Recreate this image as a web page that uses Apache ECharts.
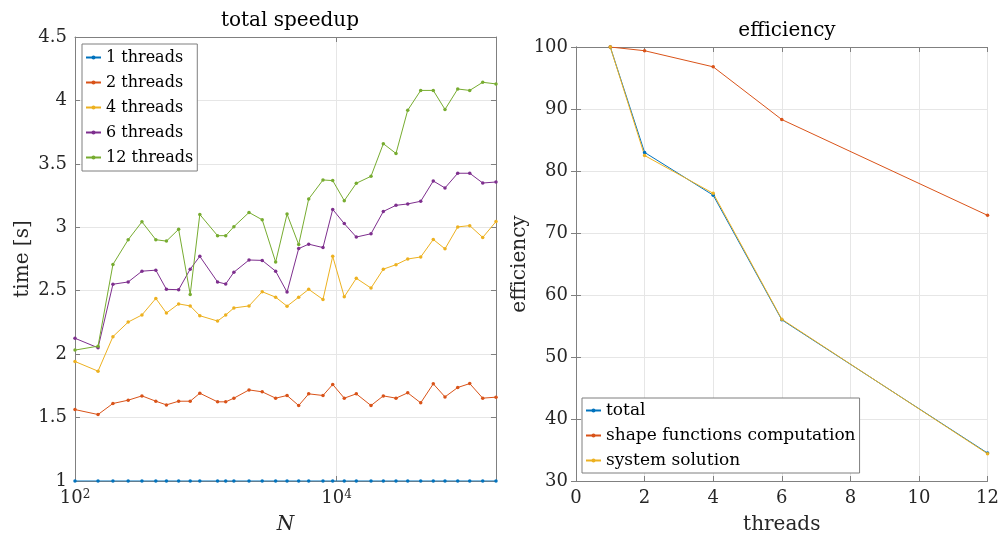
<!DOCTYPE html>
<html>
<head>
<meta charset="utf-8">
<script src="https://cdn.jsdelivr.net/npm/echarts@6.0.0/dist/echarts.min.js"></script>
<style>
  html, body { margin: 0; padding: 0; background: #fff; }
  #main { width: 1002px; height: 541px; }
</style>
</head>
<body>
<div id="main"></div>
<script>
// left panel: speedup vs N (log x)
const nValues = [100, 150, 195, 255, 325, 415, 500, 620, 760, 900, 1230, 1420, 1640, 2140, 2700, 3420,
  4180, 5130, 6120, 7870, 9340, 11450, 14150, 18330, 22770, 28460, 34990, 43970, 54860, 67420,
  84370, 104200, 131000, 165500];
const speedup1 = [1, 1, 1, 1, 1, 1, 1, 1, 1, 1, 1, 1, 1, 1, 1, 1, 1, 1, 1, 1, 1, 1, 1, 1, 1, 1, 1, 1, 1, 1, 1, 1, 1, 1];
const speedup2 = [1.563, 1.524, 1.611, 1.637, 1.671, 1.629, 1.600, 1.629, 1.629, 1.692, 1.624, 1.624, 1.653,
  1.718, 1.703, 1.653, 1.674, 1.595, 1.687, 1.674, 1.761, 1.653, 1.687, 1.595, 1.671, 1.653, 1.695,
  1.616, 1.766, 1.663, 1.737, 1.768, 1.653, 1.661];
const speedup4 = [1.942, 1.866, 2.138, 2.253, 2.309, 2.439, 2.324, 2.396, 2.380, 2.303, 2.261, 2.309, 2.364,
  2.380, 2.492, 2.449, 2.378, 2.449, 2.511, 2.431, 2.771, 2.452, 2.598, 2.521, 2.670, 2.705, 2.750,
  2.766, 2.904, 2.830, 3.003, 3.013, 2.920, 3.045];
const speedup6 = [2.125, 2.05, 2.551, 2.569, 2.654, 2.662, 2.511, 2.508, 2.670, 2.771, 2.569, 2.553, 2.646,
  2.742, 2.739, 2.654, 2.489, 2.832, 2.867, 2.840, 3.141, 3.029, 2.923, 2.949, 3.125, 3.173, 3.184,
  3.205, 3.365, 3.310, 3.426, 3.426, 3.349, 3.357];
const speedup12 = [2.032, 2.063, 2.707, 2.902, 3.043, 2.902, 2.891, 2.984, 2.471, 3.101, 2.934, 2.934, 3.005,
  3.117, 3.059, 2.726, 3.104, 2.864, 3.223, 3.373, 3.368, 3.210, 3.347, 3.402, 3.659, 3.582, 3.923,
  4.079, 4.079, 3.929, 4.090, 4.079, 4.143, 4.130];
const leftNames = ['1 threads', '2 threads', '4 threads', '6 threads', '12 threads'];

// right panel: efficiency vs threads
const threads = [1, 2, 4, 6, 12];
const effTotal = [100, 83.0, 76.1, 56.0, 34.5];
const effShape = [100, 99.4, 96.8, 88.3, 72.85];
const effSystem = [100, 82.5, 76.4, 56.1, 34.4];
const rightNames = ['total', 'shape functions computation', 'system solution'];

const colors = ['#0072BD', '#D95319', '#EDB120', '#7E2F8E', '#77AC30'];
const font = 'DejaVu Serif';
const textColor = '#262626';
const axisColor = '#808080';
const gridColor = '#e6e6e6';

const chart = echarts.init(document.getElementById('main'));

function pairs(xs, ys) {
  return xs.map((x, i) => [x, ys[i]]);
}

function lineSeries(name, xi, yi, data, color) {
  return {
    name, type: 'line', xAxisIndex: xi, yAxisIndex: yi, data,
    color, symbol: 'circle', symbolSize: 3.5, showSymbol: true,
    lineStyle: { width: 1 }, itemStyle: { color },
    emphasis: { disabled: true }
  };
}

const tickInside = { show: true, inside: true, length: 5, lineStyle: { color: axisColor } };
const lineOn = { show: true, lineStyle: { color: axisColor, width: 1 } };
const split = { show: true, lineStyle: { color: gridColor, width: 1 } };
const labelStyle = { color: textColor, fontFamily: font, fontSize: 18 };
const nameStyle = { color: textColor, fontFamily: font, fontSize: 20 };

const logLabel = {
  ...labelStyle,
  formatter: v => {
    const l = Math.log10(v);
    const e = Math.round(l);
    if (Math.abs(l - e) > 1e-6 || e % 2) return '';
    return '{b|10}{s|' + e + '}';
  },
  rich: {
    b: { fontFamily: font, fontSize: 18, color: textColor, verticalAlign: 'bottom' },
    s: { fontFamily: font, fontSize: 12, color: textColor, verticalAlign: 'top' }
  }
};

const legendBase = {
  orient: 'vertical',
  itemWidth: 15, itemHeight: 5, itemGap: 8,
  backgroundColor: '#fff', borderColor: '#7f7f7f', borderWidth: 1
};

const option = {
  animation: false,
  backgroundColor: '#fff',
  title: [
    { text: 'total speedup', left: 285, top: 6, textAlign: 'center',
      textStyle: { fontFamily: font, fontSize: 20, fontWeight: 'normal', color: '#000' } },
    { text: 'efficiency', left: 782, top: 16, textAlign: 'center',
      textStyle: { fontFamily: font, fontSize: 20, fontWeight: 'normal', color: '#000' } }
  ],
  grid: [
    { left: 75, top: 37, width: 421, height: 444 },
    { left: 576, top: 47, width: 412, height: 434 }
  ],
  legend: [
    {
      ...legendBase, data: leftNames, left: 82, top: 44,
      padding: [5, 4, 5, 3],
      textStyle: { fontFamily: font, fontSize: 16, color: '#000', lineHeight: 17 }
    },
    {
      ...legendBase, data: rightNames, left: 582, top: 398,
      padding: [4, 4, 4, 3],
      textStyle: { fontFamily: font, fontSize: 17, color: '#000', lineHeight: 17 }
    }
  ],
  xAxis: [
    {
      type: 'log', logBase: 10, gridIndex: 0, min: 100, max: 165500, interval: 2,
      name: 'N', nameLocation: 'middle', nameGap: 34,
      nameTextStyle: { ...nameStyle, fontStyle: 'italic' },
      axisLine: lineOn, axisTick: tickInside, splitLine: split, minorTick: { show: false },
      axisLabel: logLabel
    },
    {
      type: 'log', logBase: 10, gridIndex: 0, min: 100, max: 165500, interval: 2, position: 'top',
      axisLine: lineOn, axisTick: tickInside, splitLine: { show: false }, axisLabel: { show: false }
    },
    {
      type: 'value', gridIndex: 1, min: 0, max: 12, interval: 2,
      name: 'threads', nameLocation: 'middle', nameGap: 34, nameTextStyle: nameStyle,
      axisLine: lineOn, axisTick: tickInside, splitLine: split, axisLabel: labelStyle
    },
    {
      type: 'value', gridIndex: 1, min: 0, max: 12, interval: 2, position: 'top',
      axisLine: lineOn, axisTick: tickInside, splitLine: { show: false }, axisLabel: { show: false }
    }
  ],
  yAxis: [
    {
      type: 'value', gridIndex: 0, min: 1, max: 4.5, interval: 0.5,
      name: 'time [s]', nameLocation: 'middle', nameGap: 42, nameTextStyle: nameStyle,
      axisLine: lineOn, axisTick: tickInside, splitLine: split, axisLabel: labelStyle
    },
    {
      type: 'value', gridIndex: 0, min: 1, max: 4.5, interval: 0.5, position: 'right',
      axisLine: lineOn, axisTick: tickInside, splitLine: { show: false }, axisLabel: { show: false }
    },
    {
      type: 'value', gridIndex: 1, min: 30, max: 100, interval: 10,
      name: 'efficiency', nameLocation: 'middle', nameGap: 44, nameTextStyle: nameStyle,
      axisLine: lineOn, axisTick: tickInside, splitLine: split, axisLabel: labelStyle
    },
    {
      type: 'value', gridIndex: 1, min: 30, max: 100, interval: 10, position: 'right',
      axisLine: lineOn, axisTick: tickInside, splitLine: { show: false }, axisLabel: { show: false }
    }
  ],
  series: [
    lineSeries(leftNames[0], 0, 0, pairs(nValues, speedup1), colors[0]),
    lineSeries(leftNames[1], 0, 0, pairs(nValues, speedup2), colors[1]),
    lineSeries(leftNames[2], 0, 0, pairs(nValues, speedup4), colors[2]),
    lineSeries(leftNames[3], 0, 0, pairs(nValues, speedup6), colors[3]),
    lineSeries(leftNames[4], 0, 0, pairs(nValues, speedup12), colors[4]),
    lineSeries(rightNames[0], 2, 2, pairs(threads, effTotal), colors[0]),
    lineSeries(rightNames[1], 2, 2, pairs(threads, effShape), colors[1]),
    lineSeries(rightNames[2], 2, 2, pairs(threads, effSystem), colors[2])
  ]
};

chart.setOption(option);
</script>
</body>
</html>
